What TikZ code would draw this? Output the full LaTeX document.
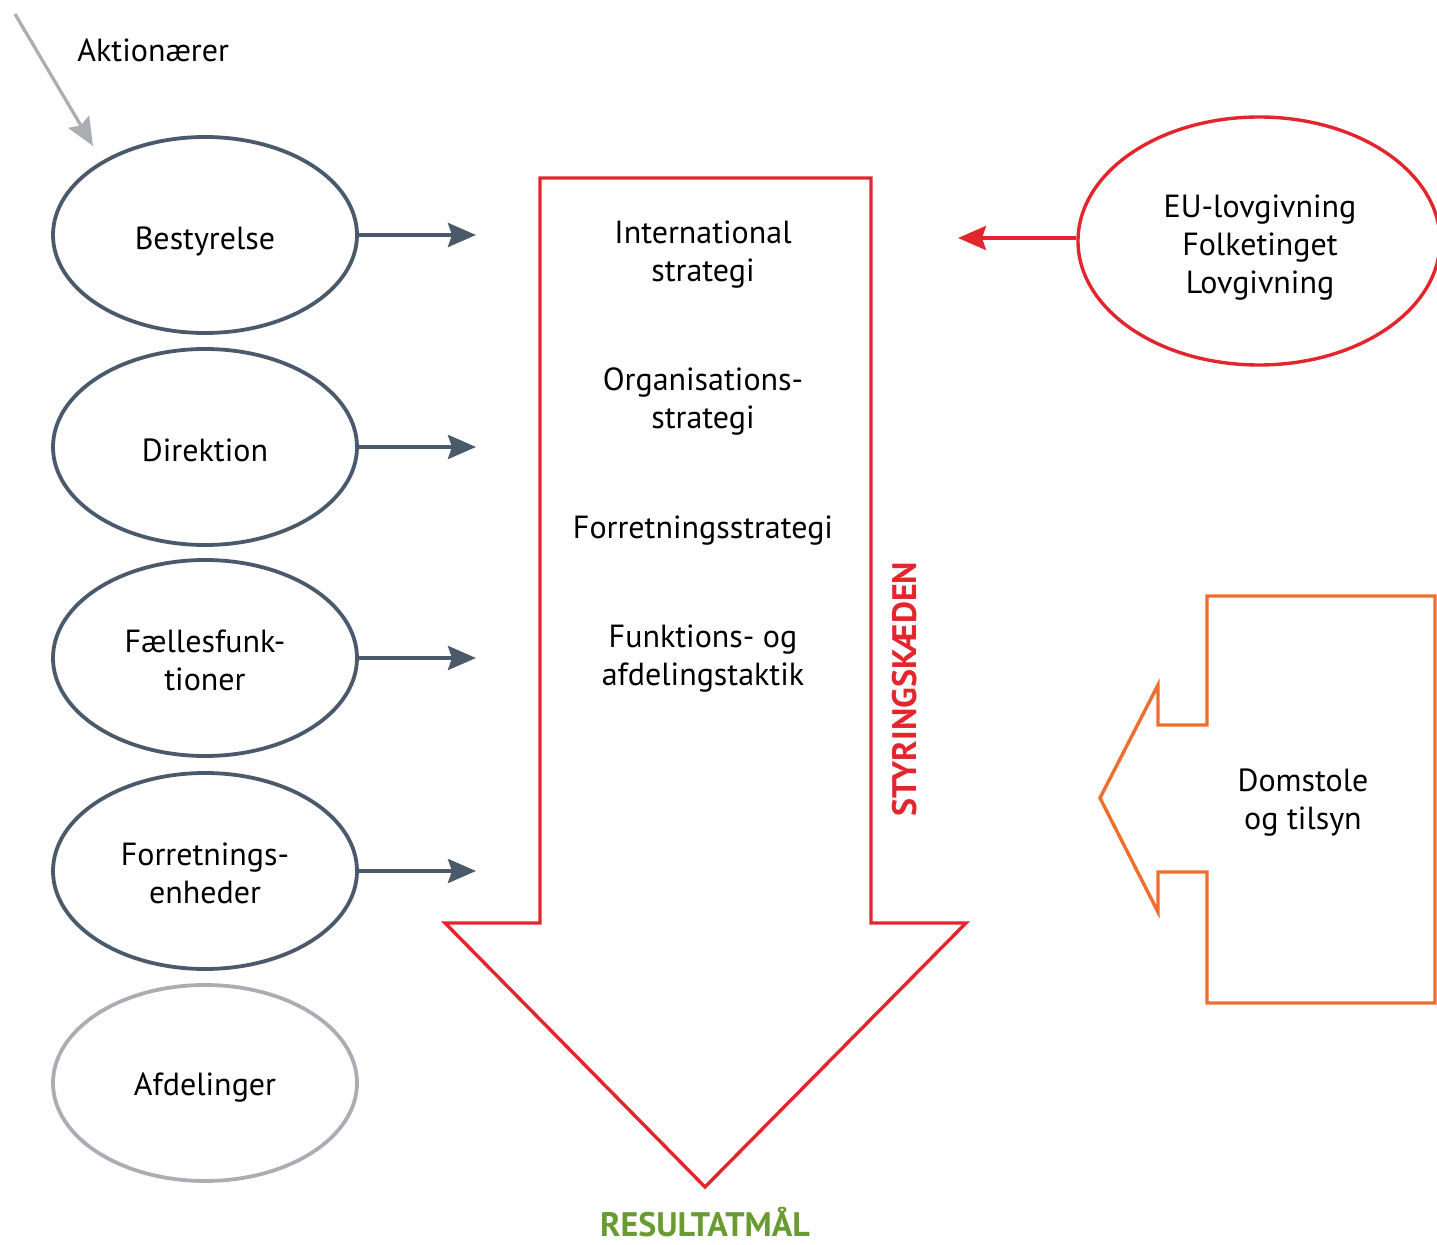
\documentclass[tikz,border=0pt]{standalone}
\usepackage{fontspec}
\setmainfont{PT Sans}
\usetikzlibrary{shapes.geometric,arrows.meta}
\definecolor{slate}{HTML}{4A5A6B}
\definecolor{ashgray}{HTML}{ABADB5}
\definecolor{chainred}{HTML}{E3262E}
\definecolor{courtorange}{HTML}{EE6E30}
\definecolor{goalgreen}{HTML}{6A9A32}
\tikzset{
  unit/.style={ellipse, draw=slate, line width=1.9pt, minimum width=152pt, minimum height=98pt, inner sep=0pt},
  feed/.style={draw=slate, line width=1.9pt, -{Stealth[length=14pt,width=12pt,inset=2pt]}},
  label/.style={font=\fontsize{16}{19}\selectfont, align=center, text=black, inner sep=0pt},
}
\begin{document}
\begin{tikzpicture}[x=0.5pt,y=-0.5pt]
\useasboundingbox (0,0) rectangle (1437,1245);

% shareholders
\coordinate (shs) at (15,14);
\coordinate (she) at (93,146);
\draw[draw=ashgray, line width=1.6pt, -{Stealth[length=14pt,width=12pt,inset=2pt]}] (shs) -- (she);
\node[label, anchor=west] (akt) at (77,50) {Aktionærer};

% organisational levels
\node[unit] (best) at (205,235) {};
\node[unit] (dir)  at (205,447) {};
\node[unit] (fael) at (205,658) {};
\node[unit] (forr) at (205,871) {};
\node[unit, draw=ashgray] (afd) at (205,1083) {};
\node[label] (bestT) at ([yshift=-3pt]best.center) {Bestyrelse};
\node[label] (dirT)  at ([yshift=-1.5pt]dir.center) {Direktion};
\node[label] (faelT) at ([yshift=-1pt]fael.center) {Fællesfunk-\\tioner};
\node[label] (forrT) at ([yshift=-1pt]forr.center) {Forretnings-\\enheder};
\node[label] (afdT)  at ([yshift=-2.5pt]afd.center) {Afdelinger};

\coordinate (t1) at (476,235);
\coordinate (t2) at (476,447);
\coordinate (t3) at (476,658);
\coordinate (t4) at (476,871);
\draw[feed] (best.east) -- (t1);
\draw[feed] (dir.east) -- (t2);
\draw[feed] (fael.east) -- (t3);
\draw[feed] (forr.east) -- (t4);

% the governance chain arrow
\draw[chainred, line width=1.7pt, line join=miter]
  (540,178) -- (871,178) -- (871,923) -- (966,923) -- (705,1187) -- (445,923) -- (540,923) -- cycle;
\node[label] (s1) at (703,255) {International\\strategi};
\node[label] (s2) at (703,402) {Organisations-\\strategi};
\node[label] (s3) at (703,531) {Forretningsstrategi};
\node[label] (s4) at (703,659) {Funktions- og\\afdelingstaktik};
\node[font=\fontsize{17}{20}\selectfont\bfseries, text=chainred, rotate=90, inner sep=0pt] (chain) at (905,689) {STYRINGSKÆDEN};
\node[font=\fontsize{17}{20}\selectfont\bfseries, text=goalgreen, inner sep=0pt] (goal) at (705,1222) {RESULTATMÅL};

% legislation
\node[ellipse, draw=chainred, line width=1.7pt, minimum width=181pt, minimum height=124pt,
  inner sep=0pt] (law) at (1259,241) {};
\node[label] (lawtxt) at (1260,248) {EU-lovgivning\\Folketinget\\Lovgivning};
\coordinate (lawt) at (958,238);
\draw[draw=chainred, line width=1.7pt, -{Stealth[length=14pt,width=12pt,inset=2pt]}] (law.west |- lawt) -- (lawt);

% courts and supervision
\draw[courtorange, line width=1.7pt, line join=miter]
  (1207,596) -- (1435,596) -- (1435,1003) -- (1207,1003) -- (1207,872) -- (1158,872)
  -- (1158,912) -- (1100,798) -- (1158,685) -- (1158,725) -- (1207,725) -- cycle;
\node[label] (court) at (1303,803) {Domstole\\og tilsyn};
\end{tikzpicture}
\end{document}
